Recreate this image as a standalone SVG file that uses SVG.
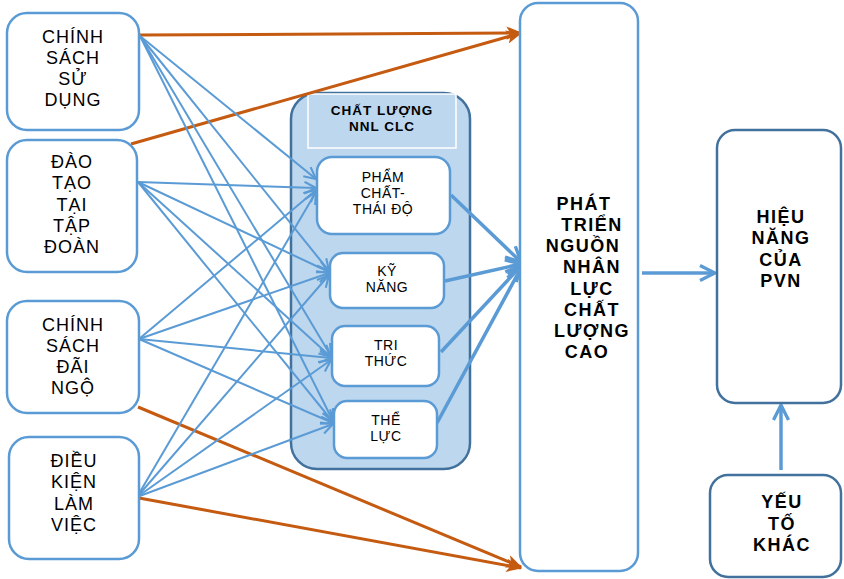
<svg xmlns="http://www.w3.org/2000/svg" width="844" height="579" viewBox="0 0 844 579">
<defs>
<style>
.box{fill:#fff;stroke:#5b9bd5;stroke-width:2.5}
.dbox{fill:#fff;stroke:#41719c;stroke-width:2.5}
.t{font-family:"Liberation Sans",Arial,sans-serif;font-size:18px;fill:#000;text-anchor:middle;letter-spacing:1px}
.ts{font-family:"Liberation Sans",Arial,sans-serif;font-size:14px;fill:#000;text-anchor:middle;letter-spacing:0.5px}
.tb{font-family:"Liberation Sans",Arial,sans-serif;font-size:18px;font-weight:bold;fill:#000;text-anchor:middle;letter-spacing:1.5px}
.th{font-family:"Liberation Sans",Arial,sans-serif;font-size:13.5px;font-weight:bold;fill:#000;text-anchor:middle;letter-spacing:1px}
.thin{stroke:#5b9bd5;stroke-width:2;fill:none;marker-end:url(#ah)}
.thick{stroke:#5b9bd5;stroke-width:3.5;fill:none;marker-end:url(#ahb)}
.or{stroke:#c55a11;stroke-width:3;fill:none;marker-end:url(#ao)}
</style>
<marker id="ah" viewBox="0 0 12 12" refX="11" refY="6" markerWidth="14" markerHeight="14" markerUnits="userSpaceOnUse" orient="auto"><path d="M1,1 L11,6 L1,11" fill="none" stroke="#5b9bd5" stroke-width="1.8"/></marker>
<marker id="ahb" viewBox="0 0 12 12" refX="11" refY="6" markerWidth="18" markerHeight="18" markerUnits="userSpaceOnUse" orient="auto"><path d="M1,1 L11,6 L1,11" fill="none" stroke="#5b9bd5" stroke-width="2.2"/></marker>
<marker id="ao" viewBox="0 0 12 12" refX="11" refY="6" markerWidth="16" markerHeight="16" markerUnits="userSpaceOnUse" orient="auto"><path d="M0,1 L12,6 L0,11 L3,6 Z" fill="#c55a11"/></marker>
</defs>
<rect width="844" height="579" fill="#fff"/>

<g id="container">
<rect x="291" y="93" width="179" height="376" rx="26" fill="#bdd7ee" stroke="#41719c" stroke-width="2.5"/>
<rect x="308" y="94" width="148" height="54" fill="#bdd7ee" stroke="#fff" stroke-width="1.5"/>
<text class="th" x="382" y="115">CHẤT LƯỢNG</text>
<text class="th" x="382" y="131">NNL CLC</text>
</g>

<g id="connectors">
<line class="or" x1="140" y1="35" x2="521" y2="33"/>
<line class="or" x1="131" y1="144" x2="521" y2="33"/>
<line class="or" x1="138" y1="407" x2="521" y2="567"/>
<line class="or" x1="139" y1="498" x2="521" y2="568"/>

<line class="thin" x1="140" y1="36" x2="316" y2="179"/>
<line class="thin" x1="140" y1="36" x2="329" y2="271"/>
<line class="thin" x1="140" y1="36" x2="331" y2="356"/>
<line class="thin" x1="140" y1="36" x2="333" y2="421"/>

<line class="thin" x1="138" y1="182" x2="316" y2="188"/>
<line class="thin" x1="138" y1="182" x2="329" y2="272"/>
<line class="thin" x1="138" y1="182" x2="331" y2="357"/>
<line class="thin" x1="138" y1="182" x2="333" y2="422"/>

<line class="thin" x1="139" y1="339" x2="316" y2="190"/>
<line class="thin" x1="139" y1="339" x2="329" y2="273"/>
<line class="thin" x1="139" y1="339" x2="331" y2="358"/>
<line class="thin" x1="139" y1="339" x2="333" y2="423"/>

<line class="thin" x1="137" y1="497" x2="316" y2="192"/>
<line class="thin" x1="137" y1="497" x2="329" y2="275"/>
<line class="thin" x1="137" y1="497" x2="331" y2="360"/>
<line class="thin" x1="137" y1="497" x2="333" y2="424"/>

<line class="thick" x1="451" y1="195" x2="521" y2="262"/>
<line class="thick" x1="445" y1="281" x2="521" y2="264"/>
<line class="thick" x1="441" y1="352" x2="521" y2="266"/>
<line class="thick" x1="437" y1="423" x2="521" y2="268"/>

<line class="thick" x1="642" y1="273" x2="715" y2="273"/>
<line class="thick" x1="781" y1="470" x2="781" y2="405"/>
</g>

<g id="n-cssd">
<rect class="box" x="7" y="13" width="132" height="117" rx="20"/>
<text class="t" x="73" y="43">CHÍNH</text>
<text class="t" x="73" y="64">SÁCH</text>
<text class="t" x="73" y="85">SỬ</text>
<text class="t" x="73" y="106">DỤNG</text>
</g>
<g id="n-dt">
<rect class="box" x="7" y="140" width="130" height="132" rx="20"/>
<text class="t" x="72" y="168">ĐÀO</text>
<text class="t" x="72" y="189">TẠO</text>
<text class="t" x="72" y="211">TẠI</text>
<text class="t" x="72" y="232">TẬP</text>
<text class="t" x="72" y="253">ĐOÀN</text>
</g>
<g id="n-csdn">
<rect class="box" x="7" y="301" width="132" height="112" rx="20"/>
<text class="t" x="73" y="331">CHÍNH</text>
<text class="t" x="73" y="352">SÁCH</text>
<text class="t" x="73" y="373">ĐÃI</text>
<text class="t" x="73" y="394">NGỘ</text>
</g>
<g id="n-dklv">
<rect class="box" x="9" y="437" width="130" height="122" rx="20"/>
<text class="t" x="74" y="467">ĐIỀU</text>
<text class="t" x="74" y="488">KIỆN</text>
<text class="t" x="74" y="510">LÀM</text>
<text class="t" x="74" y="531">VIỆC</text>
</g>

<g id="n-pc">
<rect class="box" x="317" y="157" width="133" height="77" rx="15"/>
<text class="ts" x="383" y="182">PHẨM</text>
<text class="ts" x="383" y="198">CHẤT-</text>
<text class="ts" x="383" y="214">THÁI ĐỘ</text>
</g>
<g id="n-kn">
<rect class="box" x="330" y="253" width="114" height="55" rx="13"/>
<text class="ts" x="387" y="276">KỸ</text>
<text class="ts" x="387" y="292">NĂNG</text>
</g>
<g id="n-tt">
<rect class="box" x="332" y="326" width="107" height="60" rx="13"/>
<text class="ts" x="386" y="350">TRI</text>
<text class="ts" x="386" y="366">THỨC</text>
</g>
<g id="n-tl">
<rect class="box" x="334" y="401" width="103" height="57" rx="13"/>
<text class="ts" x="386" y="425">THỂ</text>
<text class="ts" x="386" y="441">LỰC</text>
</g>

<g id="n-pt">
<rect class="box" x="520" y="3" width="118" height="568" rx="18"/>
<text class="tb" x="584" y="210">PHÁT</text>
<text class="tb" x="592" y="231">TRIỂN</text>
<text class="tb" x="583" y="252">NGUỒN</text>
<text class="tb" x="592" y="273">NHÂN</text>
<text class="tb" x="592" y="295">LỰC</text>
<text class="tb" x="592" y="316">CHẤT</text>
<text class="tb" x="592" y="337">LƯỢNG</text>
<text class="tb" x="587" y="358">CAO</text>
</g>
<g id="n-hn">
<rect class="dbox" x="717" y="130" width="124" height="273" rx="18"/>
<text class="tb" x="781" y="223">HIỆU</text>
<text class="tb" x="781" y="244">NĂNG</text>
<text class="tb" x="781" y="266">CỦA</text>
<text class="tb" x="781" y="287">PVN</text>
</g>
<g id="n-yt">
<rect class="dbox" x="710" y="475" width="131" height="102" rx="18"/>
<text class="tb" x="782" y="508">YẾU</text>
<text class="tb" x="782" y="530">TỐ</text>
<text class="tb" x="782" y="551">KHÁC</text>
</g>
</svg>
